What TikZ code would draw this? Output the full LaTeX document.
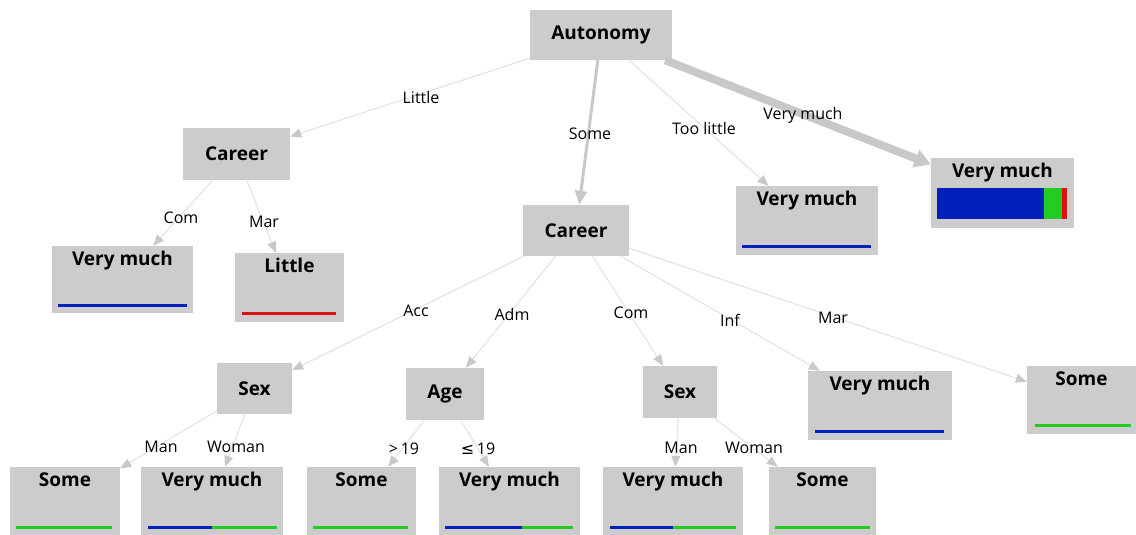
\documentclass[tikz,border=0pt]{standalone}
\usepackage{fontspec}
\setmainfont{Open Sans}
\newfontfamily\symfont{DejaVu Sans}
\usetikzlibrary{arrows.meta}

\definecolor{boxgray}{HTML}{CCCCCC}
\definecolor{edgegray}{HTML}{E0E0E0}
\definecolor{tipgray}{HTML}{C8C8C8}
\definecolor{barblue}{HTML}{0020BB}
\definecolor{bargreen}{HTML}{22CC22}
\definecolor{barred}{HTML}{DD1111}

\begin{document}
\begin{tikzpicture}[x=1pt,y=-1pt]
    \tikzstyle{every node}=[inner sep=0pt, text=black]
    \tikzstyle{box}=[rectangle, fill=boxgray, font=\bfseries\fontsize{19}{22}\selectfont]
    \tikzstyle{ttl}=[anchor=north, yshift=-5.5pt, font=\bfseries\fontsize{19}{22}\selectfont]
    \tikzstyle{lbl}=[font=\fontsize{16}{19}\selectfont]
    \tikzstyle{edge}=[edgegray, line width=1pt, -{Triangle[length=11pt,width=9pt,color=tipgray]}]
    \tikzstyle{bar}=[line width=3pt]

    \useasboundingbox (0,0) rectangle (1136,535);

    % inner nodes
    \node[box, minimum width=142pt, minimum height=50pt] (auto)  at (601,35)    {Autonomy};
    \node[box, minimum width=107pt, minimum height=52pt] (car1)  at (236.5,154) {Career};
    \node[box, minimum width=106pt, minimum height=51pt] (car2)  at (576,230.5) {Career};
    \node[box, minimum width=75pt,  minimum height=51pt] (sex1)  at (254.5,388.5) {Sex};
    \node[box, minimum width=78pt,  minimum height=52pt] (age)   at (445,394)   {Age};
    \node[box, minimum width=74pt,  minimum height=52pt] (sex2)  at (680,392)   {Sex};

    % leaves
    \node[box, minimum width=143pt, minimum height=70pt, label={[ttl]north:Very much}] (vmtop) at (1002.5,192.5) {};
    \node[box, minimum width=142pt, minimum height=69pt, label={[ttl]north:Very much}] (vmtl)  at (807,220.5)   {};
    \node[box, minimum width=141pt, minimum height=67pt, label={[ttl]north:Very much}] (vmcom) at (122.5,279.5) {};
    \node[box, minimum width=109pt, minimum height=69pt, label={[ttl]north:Little}]    (lit)   at (289.5,287.5) {};
    \node[box, minimum width=144pt, minimum height=69pt, label={[ttl]north:Very much}] (vminf) at (880,405.5)   {};
    \node[box, minimum width=109pt, minimum height=68pt, label={[ttl]north:Some}]      (smar)  at (1081.5,400)  {};

    \node[box, minimum width=110pt, minimum height=68pt, label={[ttl]north:Some}]      (s1)  at (65,501)    {};
    \node[box, minimum width=142pt, minimum height=68pt, label={[ttl]north:Very much}] (v1)  at (212,501)   {};
    \node[box, minimum width=109pt, minimum height=68pt, label={[ttl]north:Some}]      (s2)  at (361.5,501) {};
    \node[box, minimum width=141pt, minimum height=68pt, label={[ttl]north:Very much}] (v2)  at (509.5,501) {};
    \node[box, minimum width=140pt, minimum height=68pt, label={[ttl]north:Very much}] (v3)  at (673,501)   {};
    \node[box, minimum width=107pt, minimum height=68pt, label={[ttl]north:Some}]      (s3)  at (822.5,501) {};

    % distribution bars
    \fill[barblue]  (937,188) rectangle (1044,219);
    \fill[bargreen] (1044,188) rectangle (1062,219);
    \fill[barred]   (1062,188) rectangle (1067,219);
    \draw[bar, barblue]  (742,246) -- (871,246);
    \draw[bar, barblue]  (58,305) -- (187,305);
    \draw[bar, barred]   (242,313) -- (336,313);
    \draw[bar, barblue]  (815,431) -- (944,431);
    \draw[bar, bargreen] (1035,425) -- (1131,425);
    \draw[bar, bargreen] (16,527) -- (112,527);
    \draw[bar, barblue]  (148,527) -- (212,527);
    \draw[bar, bargreen] (212,527) -- (277,527);
    \draw[bar, bargreen] (313,527) -- (408,527);
    \draw[bar, barblue]  (445,527) -- (522,527);
    \draw[bar, bargreen] (522,527) -- (573,527);
    \draw[bar, barblue]  (610,527) -- (673,527);
    \draw[bar, bargreen] (673,527) -- (736,527);
    \draw[bar, bargreen] (775,527) -- (870,527);

    % edges
    \draw[edge] (auto) -- (car1);
    \draw[edge, tipgray, line width=3pt, -{Triangle[length=14pt,width=12pt,color=tipgray]}] (auto) -- (car2);
    \draw[edge] (auto) -- (vmtl);
    \draw[edge, tipgray, line width=8pt, -{Triangle[length=16pt,width=18pt,color=tipgray]}] (auto) -- (vmtop);

    \draw[edge] (car1) -- (vmcom);
    \draw[edge] (car1) -- (lit);

    \draw[edge] (car2) -- (sex1);
    \draw[edge] (car2) -- (age);
    \draw[edge] (car2) -- (sex2);
    \draw[edge] (car2) -- (vminf);
    \draw[edge] (car2) -- (smar);

    \draw[edge] (sex1) -- (s1);
    \draw[edge] (sex1) -- (v1);
    \draw[edge] (age) -- (s2);
    \draw[edge] (age) -- (v2);
    \draw[edge] (sex2) -- (v3);
    \draw[edge] (sex2) -- (s3);

    % edge labels
    \node[lbl] (l1)  at (421,97)  {Little};
    \node[lbl] (l2)  at (590,134) {Some};
    \node[lbl] (l3)  at (704,128) {Too little};
    \node[lbl] (l4)  at (803,115) {Very much};
    \node[lbl] (l5)  at (181,218) {Com};
    \node[lbl] (l6)  at (264,222) {Mar};
    \node[lbl] (l7)  at (416,311) {Acc};
    \node[lbl] (l8)  at (512,314) {Adm};
    \node[lbl] (l9)  at (631,313) {Com};
    \node[lbl] (l10) at (730,320) {Inf};
    \node[lbl] (l11) at (833,318) {Mar};
    \node[lbl] (l12) at (161,447) {Man};
    \node[lbl] (l13) at (236,447) {Woman};
    \node[lbl] (l14) at (404,449) {>\,19};
    \node[lbl] (l15) at (478,449) {{\symfont ≤}\,19};
    \node[lbl] (l16) at (681,448) {Man};
    \node[lbl] (l17) at (754,448) {Woman};
\end{tikzpicture}
\end{document}
